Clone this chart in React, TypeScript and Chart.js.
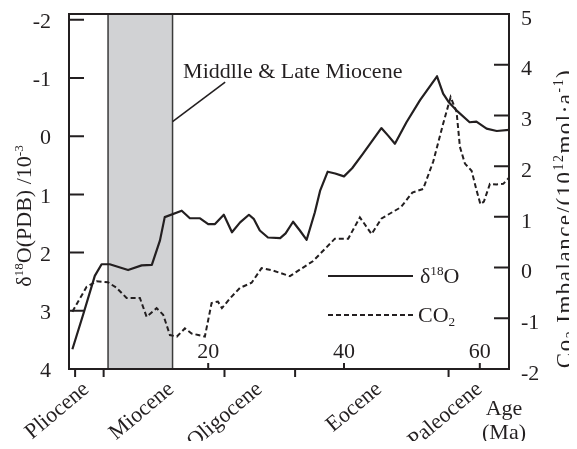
import React, { useEffect, useRef } from "react";
import { Chart, registerables } from "chart.js";

Chart.register(...registerables);

// Benthic δ18O record (‰, PDB) on the reversed left axis
const o18Age = [0, 1.6, 3.3, 4.3, 5.5, 8.2, 10.2, 11.7, 12.9, 13.6, 16.1, 17.3, 18.8, 20.0, 21.0, 22.3, 23.5, 24.7, 26.0, 26.7, 27.6, 28.8, 30.6, 31.4, 32.5, 33.5, 34.5, 35.7, 36.5, 37.6, 38.7, 40.0, 41.2, 42.8, 45.5, 46.5, 47.5, 49.2, 51.2, 53.7, 54.6, 55.4, 56.6, 58.5, 59.5, 61.0, 62.5, 64.3];
const o18Value = [3.66, 3.06, 2.4, 2.2, 2.2, 2.3, 2.22, 2.21, 1.79, 1.39, 1.28, 1.41, 1.41, 1.51, 1.51, 1.35, 1.65, 1.48, 1.35, 1.42, 1.62, 1.74, 1.75, 1.67, 1.47, 1.62, 1.78, 1.31, 0.93, 0.61, 0.64, 0.69, 0.55, 0.3, -0.14, -0.01, 0.13, -0.24, -0.62, -1.03, -0.73, -0.59, -0.44, -0.24, -0.25, -0.13, -0.09, -0.11];

// CO2 imbalance (10^12 mol/a) on the right axis
const co2Age = [0, 0.85, 2.1, 3.56, 5.23, 6.51, 7.98, 9.94, 10.93, 12.4, 13.37, 14.36, 15.39, 16.57, 17.56, 18.53, 19.51, 20.5, 21.43, 22.02, 23.2, 24.67, 26.39, 27.86, 29.57, 32.03, 33.51, 35.46, 38.66, 40.62, 42.34, 44.06, 45.54, 48.38, 50.07, 51.66, 53.14, 54.61, 55.7, 56.58, 57.07, 57.81, 58.79, 59.53, 60.09, 60.6, 61.49, 62.47, 63.45, 64.3];
const co2Value = [-0.87, -0.67, -0.38, -0.27, -0.29, -0.4, -0.6, -0.6, -0.97, -0.8, -0.93, -1.33, -1.36, -1.2, -1.3, -1.33, -1.36, -0.7, -0.67, -0.8, -0.61, -0.4, -0.3, -0.01, -0.06, -0.17, -0.04, 0.13, 0.57, 0.57, 0.99, 0.66, 0.97, 1.19, 1.48, 1.55, 2.09, 2.84, 3.36, 3.07, 2.38, 2.05, 1.91, 1.52, 1.25, 1.3, 1.65, 1.64, 1.65, 1.77];

const leftTicks = [-2, -1, 0, 1, 2, 3, 4];
const rightTicks = [-2, -1, 0, 1, 2, 3, 4, 5];
const ageTicks = [20, 40, 60];
const epochBounds = [0.4, 4.6, 22.4, 32.8, 55.4];
const epochNames = ["Pliocene", "Miocene", "Oligocene", "Eocene", "Paleocene"];
const epochLabelAges = [2.6, 15.1, 28.1, 45.7, 60.5];
const bandAges = [5.25, 14.75];
const bandLabel = "Middlle & Late Miocene";

const FONT = '"Liberation Serif", "Times New Roman", serif';
const INK = "#231f20";

type Part = { t: string; pos?: "sup" | "sub" };

function richWidth(ctx: CanvasRenderingContext2D, parts: Part[], size: number) {
  let w = 0;
  for (const p of parts) {
    ctx.font = `${p.pos ? size * 0.6 : size}px ${FONT}`;
    w += ctx.measureText(p.t).width;
  }
  return w;
}

function drawRich(ctx: CanvasRenderingContext2D, parts: Part[], x: number, y: number, size: number) {
  let cx = x;
  for (const p of parts) {
    const s = p.pos ? size * 0.6 : size;
    ctx.font = `${s}px ${FONT}`;
    const dy = p.pos === "sup" ? -size * 0.38 : p.pos === "sub" ? size * 0.16 : 0;
    ctx.fillText(p.t, cx, y + dy);
    cx += ctx.measureText(p.t).width;
  }
}

const leftTitle: Part[] = [{ t: "δ" }, { t: "18", pos: "sup" }, { t: "O(PDB) /10" }, { t: "-3", pos: "sup" }];
const rightTitle: Part[] = [
  { t: "Co" }, { t: "2", pos: "sub" }, { t: " Imbalance/(10" }, { t: "12", pos: "sup" },
  { t: "mol·a" }, { t: "-1", pos: "sup" }, { t: ")" },
];
const legendO18: Part[] = [{ t: "δ" }, { t: "18", pos: "sup" }, { t: "O" }];
const legendCO2: Part[] = [{ t: "CO" }, { t: "2", pos: "sub" }];

const decor = {
  id: "decor",
  beforeDatasetsDraw(chart: any) {
    const { ctx, chartArea: a, scales } = chart;
    const x = scales.x;
    const x0 = x.getPixelForValue(bandAges[0]);
    const x1 = x.getPixelForValue(bandAges[1]);
    ctx.save();
    ctx.fillStyle = "#d1d2d4";
    ctx.fillRect(x0, a.top, x1 - x0, a.bottom - a.top);
    ctx.strokeStyle = "#3a3a3a";
    ctx.lineWidth = 1.5;
    ctx.beginPath();
    ctx.moveTo(x0, a.top); ctx.lineTo(x0, a.bottom);
    ctx.moveTo(x1, a.top); ctx.lineTo(x1, a.bottom);
    ctx.stroke();
    ctx.restore();
  },
  afterDatasetsDraw(chart: any) {
    const { ctx, chartArea: a, scales } = chart;
    const { x, y, y2 } = scales;
    ctx.save();
    ctx.strokeStyle = INK;
    ctx.fillStyle = INK;
    ctx.lineWidth = 2;

    // frame
    ctx.strokeRect(a.left, a.top, a.right - a.left, a.bottom - a.top);

    // inward tick marks
    ctx.beginPath();
    for (const v of leftTicks) {
      const py = y.getPixelForValue(v);
      if (py > a.top + 2 && py < a.bottom - 2) { ctx.moveTo(a.left, py); ctx.lineTo(a.left + 15, py); }
    }
    for (const v of rightTicks) {
      const py = y2.getPixelForValue(v);
      if (py > a.top + 2 && py < a.bottom - 2) { ctx.moveTo(a.right - 15, py); ctx.lineTo(a.right, py); }
    }
    for (const v of ageTicks) {
      const px = x.getPixelForValue(v);
      ctx.moveTo(px, a.bottom); ctx.lineTo(px, a.bottom - 6);
    }
    for (const v of epochBounds) {
      const px = x.getPixelForValue(v);
      ctx.moveTo(px, a.bottom); ctx.lineTo(px, a.bottom + 8);
    }
    ctx.stroke();

    // tick labels
    ctx.font = `22px ${FONT}`;
    ctx.textBaseline = "middle";
    ctx.textAlign = "right";
    for (const v of leftTicks) ctx.fillText(String(v), a.left - 18, y.getPixelForValue(v) + 2.5);
    ctx.textAlign = "left";
    for (const v of rightTicks) ctx.fillText(String(v), a.right + 12, y2.getPixelForValue(v) + 5);
    ctx.textAlign = "center";
    ctx.textBaseline = "alphabetic";
    for (const v of ageTicks) ctx.fillText(String(v), x.getPixelForValue(v), a.bottom - 11);

    // epoch names
    ctx.textAlign = "right";
    epochNames.forEach((name, i) => {
      ctx.save();
      ctx.translate(x.getPixelForValue(epochLabelAges[i]), a.bottom + 22);
      ctx.rotate((-40 * Math.PI) / 180);
      ctx.fillText(name, 0, 0);
      ctx.restore();
    });
    ctx.textAlign = "center";
    ctx.fillText("Age", a.right - 5, a.bottom + 46);
    ctx.fillText("(Ma)", a.right - 5, a.bottom + 70);

    // band annotation with leader line
    ctx.textAlign = "left";
    ctx.fillText(bandLabel, x.getPixelForValue(16.3), y.getPixelForValue(-1.0));
    ctx.lineWidth = 1.6;
    ctx.beginPath();
    ctx.moveTo(x.getPixelForValue(bandAges[1]), y.getPixelForValue(-0.25));
    ctx.lineTo(x.getPixelForValue(22.5), y.getPixelForValue(-0.93));
    ctx.stroke();

    // legend
    const lx0 = a.left + 259;
    const lx1 = a.left + 344;
    ctx.lineWidth = 2;
    ctx.beginPath();
    ctx.moveTo(lx0, a.top + 262); ctx.lineTo(lx1, a.top + 262);
    ctx.stroke();
    ctx.setLineDash([5, 3]);
    ctx.beginPath();
    ctx.moveTo(lx0, a.top + 301); ctx.lineTo(lx1, a.top + 301);
    ctx.stroke();
    ctx.setLineDash([]);
    drawRich(ctx, legendO18, a.left + 351, a.top + 269, 22);
    drawRich(ctx, legendCO2, a.left + 349, a.top + 308, 22);

    // axis titles
    ctx.save();
    ctx.translate(23, 208);
    ctx.rotate(-Math.PI / 2);
    const wl = richWidth(ctx, leftTitle, 22);
    drawRich(ctx, leftTitle, -wl / 2, 0, 22);
    ctx.restore();

    ctx.save();
    ctx.translate(a.right + 63, 210.5);
    ctx.rotate(-Math.PI / 2);
    (ctx as any).letterSpacing = "1.5px";
    const wr = richWidth(ctx, rightTitle, 23);
    drawRich(ctx, rightTitle, -wr / 2, 0, 23);
    ctx.restore();

    ctx.restore();
  },
};

export default function App() {
  const ref = useRef<HTMLCanvasElement | null>(null);

  useEffect(() => {
    if (!ref.current) return;
    const chart = new Chart(ref.current, {
      type: "line",
      data: {
        datasets: [
          {
            label: "δ18O",
            data: o18Age.map((a, i) => ({ x: a, y: o18Value[i] })),
            yAxisID: "y",
            borderColor: INK,
            borderWidth: 2.2,
            borderJoinStyle: "round",
            pointRadius: 0,
            fill: false,
            tension: 0,
          },
          {
            label: "CO2",
            data: co2Age.map((a, i) => ({ x: a, y: co2Value[i] })),
            yAxisID: "y2",
            borderColor: INK,
            borderWidth: 2,
            borderDash: [5, 3],
            pointRadius: 0,
            fill: false,
            tension: 0,
          },
        ],
      },
      options: {
        animation: false,
        responsive: false,
        layout: { padding: { left: 61, right: 68, top: 6, bottom: 80 } },
        plugins: { legend: { display: false }, tooltip: { enabled: false } },
        scales: {
          x: { type: "linear", min: -0.5, max: 64.3, display: false },
          y: { type: "linear", reverse: true, min: -2.1, max: 4, display: false },
          y2: { type: "linear", position: "right", min: -2, max: 5, display: false },
        },
      },
      plugins: [decor],
    } as any);
    return () => chart.destroy();
  }, []);

  return (
    <div style={{ width: 569, height: 441, marginBottom: -8, marginRight: -8 }}>
      <canvas ref={ref} width={569} height={441} style={{ display: "block", width: 569, height: 441 }} />
    </div>
  );
}
